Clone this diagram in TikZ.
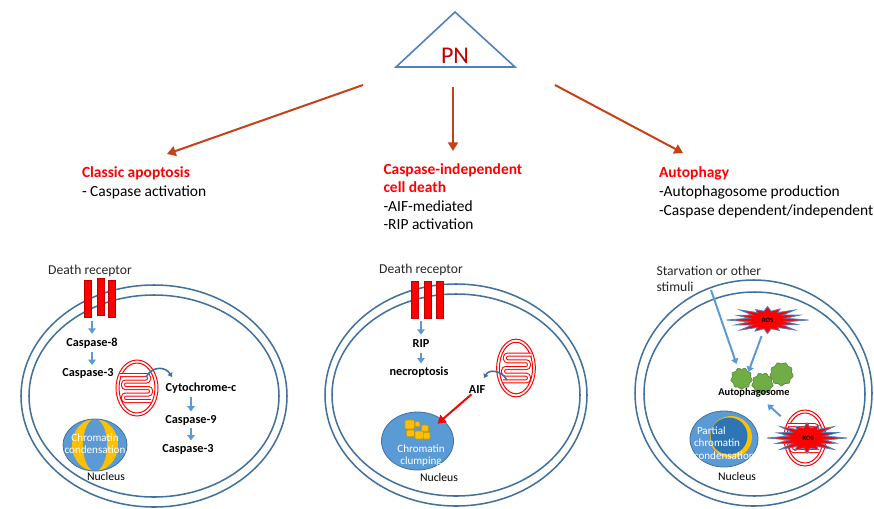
\documentclass[tikz,border=0pt]{standalone}
\usepackage{fontspec}
\setmainfont{Carlito}
\usetikzlibrary{arrows.meta,shapes.geometric}
\definecolor{memb}{RGB}{65,113,156}
\definecolor{lblue}{RGB}{91,155,213}
\definecolor{nucb}{RGB}{91,155,213}
\definecolor{nucd}{RGB}{46,117,182}
\definecolor{gold}{RGB}{255,192,0}
\definecolor{goldd}{RGB}{200,150,0}
\definecolor{toparr}{RGB}{200,64,24}
\definecolor{pnred}{RGB}{192,0,0}
\definecolor{hred}{RGB}{255,0,0}
\definecolor{triblue}{RGB}{79,129,189}
\definecolor{leaf}{RGB}{112,173,71}
\definecolor{leafd}{RGB}{84,130,53}
\newcommand\rosat[4]{%
  \draw[rosst] (#1,#2) +(0:#3 and #4)
    \foreach \a/\f in {0/1,22.5/0.8,45/0.95,67.5/0.75,90/0.9,112.5/0.8,135/0.95,157.5/0.85,180/1,202.5/0.8,225/0.95,247.5/0.75,270/0.9,292.5/0.8,315/0.95,337.5/0.85}
    { -- +(\a:{#3*\f} and {#4*\f}) -- +(\a+11.25:{0.45*#3} and {0.6*#4}) } -- cycle;}
\newcommand\blobat[3]{%
  \draw[blob] plot[smooth cycle, domain=0:350, samples=36]
    ({#1+(#3+0.9*sin(9*\x))*cos(\x)},{#2+(#3+0.9*sin(9*\x))*sin(\x)});}
\begin{document}
\begin{tikzpicture}[x=0.75pt,y=-0.75pt,
  every node/.style={inner sep=0pt, outer sep=0pt, text=black},
  memline/.style={draw=memb, line width=1.15pt},
  toparrow/.style={draw=toparr, line width=1.5pt, -{Triangle[width=7.5pt,length=6.5pt]}},
  barrow/.style={draw=lblue, line width=1.5pt, -{Triangle[width=5.5pt,length=4pt]}},
  carrow/.style={draw=memb, line width=1.2pt, -{Triangle[width=4pt,length=3pt]}},
  rarrow/.style={draw=red, line width=1.5pt, -{Triangle[width=7pt,length=6pt]}},
  head/.style={anchor=base west, font=\fontsize{11.6}{14}\selectfont\bfseries, text=hred},
  body/.style={anchor=base west, font=\fontsize{11.6}{14}\selectfont},
  lab/.style={anchor=base, font=\fontsize{9.2}{11}\selectfont\bfseries},
  drlab/.style={anchor=base, font=\fontsize{10.2}{12}\selectfont, text=black!85},
  nuclab/.style={anchor=base, font=\fontsize{8.8}{10}\selectfont},
  wlab/.style={anchor=base, font=\fontsize{8.3}{10}\selectfont, text=white},
  roslab/.style={font=\fontsize{5}{6}\selectfont\bfseries},
  bar/.style={draw=pnred, fill=red, line width=0.6pt, minimum width=5.25pt, minimum height=27.75pt},
  mitol/.style={draw=red, line width=0.75pt},
  cristae/.style={draw=red, line width=0.75pt, double=white, double distance=1.5pt, rounded corners=2pt},
  rosst/.style={fill=red, draw=triblue, line width=0.6pt},
  blob/.style={fill=leaf, draw=leafd, line width=0.4pt},
  sq/.style={fill=gold, draw=goldd, line width=0.4pt, rounded corners=0.8pt},
  mitopic/.pic={
    \draw[mitol] (0,0) ellipse [x radius=21, y radius=28];
    \draw[mitol] (0,0) ellipse [x radius=18, y radius=25];
    \draw[cristae] (-17,-13) -- (12,-13) -- (12,-6.5) -- (-14,-6.5) -- (-14,0) -- (14,0) -- (14,6.5) -- (-14,6.5) -- (-14,13) -- (14,13);
  },
]
\useasboundingbox (0,0) rectangle (874,508);

% ---------- top ----------
\draw[draw=triblue, line width=1.2pt, line join=miter] (455,12) -- (396,67) -- (515,67) -- cycle;
\node[anchor=base, font=\fontsize{18}{20}\selectfont, text=pnred] (pn) at (455,63) {PN};
\coordinate (t1s) at (363,85);  \coordinate (t1e) at (167,154);
\coordinate (t2s) at (453,87);  \coordinate (t2e) at (453,151);
\coordinate (t3s) at (555,85);  \coordinate (t3e) at (683,153);
\draw[toparrow] (t1s) -- (t1e);
\draw[toparrow] (t2s) -- (t2e);
\draw[toparrow] (t3s) -- (t3e);

\node[head] (ca1) at (82,177) {Classic apoptosis};
\node[body] (ca2) at (82,196) {- Caspase activation};
\node[head] (ci1) at (383.5,174) {Caspase-independent};
\node[head] (ci2) at (383.5,192.5) {cell death};
\node[body] (ci3) at (383.5,211) {-AIF-mediated};
\node[body] (ci4) at (383.5,229.5) {-RIP activation};
\node[head] (au1) at (659,177) {Autophagy};
\node[body] (au2) at (659,196) {-Autophagosome production};
\node[body] (au3) at (659,215) {-Caspase dependent/independent};

% ---------- left cell ----------
\draw[memline] (154,396) ellipse [x radius=133, y radius=111];
\draw[memline] (154,396) ellipse [x radius=125, y radius=101];
\node[drlab] (dr1) at (90,274) {Death receptor};
\node[bar] (lb1) at (87.5,299) {};
\node[bar] (lb2) at (100.5,297) {};
\node[bar] (lb3) at (112,299) {};
\node[lab] (lc8) at (92,346.5) {Caspase-8};
\node[lab] (lc3) at (88,376.5) {Caspase-3};
\pic at (137,388) {mitopic};
\node[lab] (lcy) at (201,391.5) {Cytochrome-c};
\node[lab] (lc9) at (191,423) {Caspase-9};
\node[lab] (lc3b) at (188,452) {Caspase-3};
\draw[barrow, shorten <=2.6pt, shorten >=3.2pt] (lc8.north |- lb1.south) -- (lc8.north);
\draw[barrow, shorten <=2.6pt, shorten >=2.6pt] (lc8.south) -- (lc8.south |- lc3.north);
\draw[barrow, shorten <=2.4pt, shorten >=2.6pt] (lc9.north |- lcy.south) -- (lc9.north);
\draw[barrow, shorten <=2.4pt, shorten >=2.6pt] (lc9.south) -- (lc9.south |- lc3b.north);
\coordinate (m1o) at (146,377);
\coordinate (m1t) at (172,377);
\draw[carrow] (m1o) .. controls +(7,-12) and +(-6,-10) .. (m1t);
% nucleus
\fill[nucb] (95,445) ellipse [x radius=32, y radius=26];
\fill[gold] (95,445) ellipse [x radius=23, y radius=26];
\fill[nucb] (95,445) ellipse [x radius=12, y radius=26];
\draw[memb, line width=0.6pt] (95,445) ellipse [x radius=32, y radius=26];
\node[wlab] (ln1) at (95,441) {Chromatin};
\node[wlab] (ln2) at (95,453) {condensation};
\node[nuclab] (ln3) at (106,480) {Nucleus};

% ---------- middle cell ----------
\draw[memline] (456,395) ellipse [x radius=131, y radius=111];
\draw[memline] (456,395) ellipse [x radius=124, y radius=101];
\node[drlab] (dr2) at (421,273) {Death receptor};
\node[bar] (mb1) at (415,299.5) {};
\node[bar] (mb2) at (427.5,299.5) {};
\node[bar] (mb3) at (440,299.5) {};
\node[lab] (rip) at (421,347) {RIP};
\node[lab] (necro) at (419,375) {necroptosis};
\draw[barrow, shorten <=2.6pt, shorten >=3.2pt] (rip.north |- mb1.south) -- (rip.north);
\draw[barrow, shorten <=4.5pt, shorten >=2.2pt] (rip.south) -- (rip.south |- necro.north);
\pic[xscale=-0.92, yscale=1.03] at (516,368) {mitopic};
\node[lab] (aif) at (477,393.5) {AIF};
\coordinate (m2o) at (507,380);
\coordinate (m2t) at (484,378);
\draw[carrow] (m2o) .. controls +(-6,-10) and +(5,-9) .. (m2t);
\node[ellipse, fill=nucb, draw=memb, line width=0.6pt, minimum width=54pt, minimum height=43.5pt] (nuc2) at (417.5,441) {};
\draw[sq] (405,420) rectangle (414.3,429);
\draw[sq] (415,421.7) rectangle (420,426.7);
\draw[sq] (421.7,425) rectangle (428.3,431.7);
\draw[sq] (406.7,430) rectangle (414.3,436.7);
\draw[sq] (415,431) rectangle (423.3,439);
\draw[sq] (423.3,432.3) rectangle (430,439);
\draw[rarrow, shorten <=1pt, shorten >=-4.5pt] (aif) -- (nuc2);
\node[wlab] (mn1) at (421,452) {Chromatin};
\node[wlab] (mn2) at (421,464) {clumping};
\node[nuclab] (mn3) at (439,481) {Nucleus};

% ---------- right cell ----------
\draw[memline] (753.5,393) ellipse [x radius=118.5, y radius=113];
\draw[memline] (754.5,394) ellipse [x radius=110.5, y radius=102];
\node[drlab, anchor=base west] (stv1) at (656.5,275.5) {Starvation or other};
\node[drlab, anchor=base west] (stv2) at (656.5,291.5) {stimuli};
\rosat{767.5}{320}{41}{15}
\node[roslab] (ros1) at (767.5,320) {ROS};
\blobat{741.5}{378.5}{10}
\blobat{762.5}{383.5}{10}
\blobat{781.5}{374}{11}
\node[lab, font=\fontsize{7.8}{9}\selectfont\bfseries] (apg) at (754,395) {Autophagosome};
\coordinate (stvs) at (711,290);
\coordinate (bl1) at (741.5,378.5);
\coordinate (apgt) at (745,381);
\draw[barrow, shorten >=11.5pt] (stvs) -- (bl1);
\draw[barrow, shorten <=12.8pt, shorten >=7.2pt] (ros1.center) -- (apgt);
\pic at (805,438) {mitopic};
\coordinate (m3c) at (805,438);
\rosat{807}{438}{40}{17}
\node[roslab] (ros2) at (808,438) {ROS};
\draw[barrow, shorten <=24.4pt, shorten >=13.6pt] (m3c) -- (apg.center);
% nucleus
\fill[nucb] (724,439) ellipse [x radius=34, y radius=28];
\draw[memb, line width=0.6pt] (724,439) ellipse [x radius=34, y radius=28];
\fill[gold] (731,437) circle [radius=21];
\fill[nucd] (729,436) circle [radius=18.5];
\node[wlab, anchor=base west] (rn1) at (697,434) {Partial};
\node[wlab, anchor=base west] (rn2) at (694,446.5) {chromatin};
\node[wlab, anchor=base west] (rn3) at (694,459) {condensation};
\node[nuclab] (rn4) at (737,480) {Nucleus};
\end{tikzpicture}
\end{document}
